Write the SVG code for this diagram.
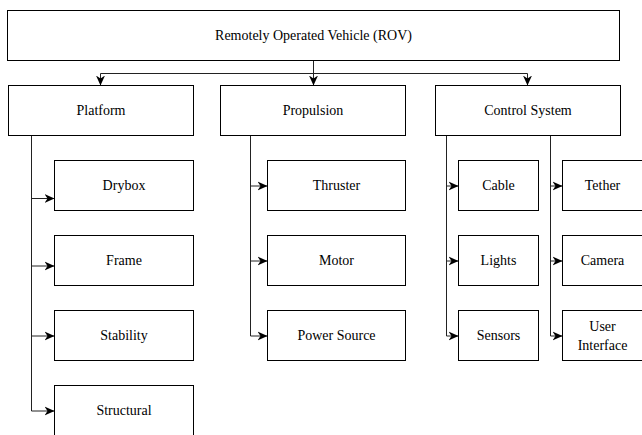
<svg xmlns="http://www.w3.org/2000/svg" width="642" height="435" viewBox="0 0 642 435">
<style>
.box{fill:#fff;stroke:#000;stroke-width:1}
.lbl{font-family:"Liberation Serif","Times New Roman",Tinos,"Nimbus Roman","Nimbus Roman No9 L","Noto Serif","DejaVu Serif",FreeSerif,Times,serif;font-size:14px;fill:#000;text-anchor:middle}
.edge{fill:none;stroke:#222;stroke-width:1}
</style>
<defs>
<marker id="arr" viewBox="0 0 10 10" refX="10" refY="5" markerWidth="10" markerHeight="10" markerUnits="userSpaceOnUse" orient="auto">
<path d="M0,0.5 L10,5 L0,9.5 L3,5 Z" fill="#000"/>
</marker>
</defs>
<rect width="642" height="435" fill="#fff"/>
<g id="connectors">
<path class="edge" d="M313.5,60.5 V73.5 H100.5 V85.5" marker-end="url(#arr)"/>
<path class="edge" d="M313.5,60.5 V85.5" marker-end="url(#arr)"/>
<path class="edge" d="M313.5,60.5 V73.5 H527.5 V85.5" marker-end="url(#arr)"/>
<path class="edge" d="M31.5,135.5 V198.5 H54.5" marker-end="url(#arr)"/>
<path class="edge" d="M31.5,135.5 V266 H54.5" marker-end="url(#arr)"/>
<path class="edge" d="M31.5,135.5 V336 H54.5" marker-end="url(#arr)"/>
<path class="edge" d="M31.5,135.5 V411 H54.5" marker-end="url(#arr)"/>
<path class="edge" d="M250.5,135.5 V186 H267.5" marker-end="url(#arr)"/>
<path class="edge" d="M250.5,135.5 V261 H267.5" marker-end="url(#arr)"/>
<path class="edge" d="M250.5,135.5 V336 H267.5" marker-end="url(#arr)"/>
<path class="edge" d="M446.5,135.5 V186 H458.5" marker-end="url(#arr)"/>
<path class="edge" d="M446.5,135.5 V261 H458.5" marker-end="url(#arr)"/>
<path class="edge" d="M446.5,135.5 V336 H458.5" marker-end="url(#arr)"/>
<path class="edge" d="M550.5,135.5 V186 H562.5" marker-end="url(#arr)"/>
<path class="edge" d="M550.5,135.5 V261 H562.5" marker-end="url(#arr)"/>
<path class="edge" d="M550.5,135.5 V336 H562.5" marker-end="url(#arr)"/>
</g>
<g id="rov"><rect class="box" x="7.5" y="10.5" width="612" height="50"/><text class="lbl" x="313.5" y="40">Remotely Operated Vehicle (ROV)</text></g>
<g id="platform"><rect class="box" x="8.5" y="85.5" width="185" height="50"/><text class="lbl" x="101" y="115">Platform</text></g>
<g id="propulsion"><rect class="box" x="220.5" y="85.5" width="185" height="50"/><text class="lbl" x="313" y="115">Propulsion</text></g>
<g id="control"><rect class="box" x="435.5" y="85.5" width="185" height="50"/><text class="lbl" x="528" y="115">Control System</text></g>
<g id="drybox"><rect class="box" x="54.5" y="160.5" width="139" height="50"/><text class="lbl" x="124" y="190">Drybox</text></g>
<g id="frame"><rect class="box" x="54.5" y="235.5" width="139" height="50"/><text class="lbl" x="124" y="265">Frame</text></g>
<g id="stability"><rect class="box" x="54.5" y="310.5" width="139" height="50"/><text class="lbl" x="124" y="340">Stability</text></g>
<g id="structural"><rect class="box" x="54.5" y="385.5" width="139" height="50"/><text class="lbl" x="124" y="415">Structural</text></g>
<g id="thruster"><rect class="box" x="267.5" y="160.5" width="138" height="50"/><text class="lbl" x="336.5" y="190">Thruster</text></g>
<g id="motor"><rect class="box" x="267.5" y="235.5" width="138" height="50"/><text class="lbl" x="336.5" y="265">Motor</text></g>
<g id="power"><rect class="box" x="267.5" y="310.5" width="138" height="50"/><text class="lbl" x="336.5" y="340">Power Source</text></g>
<g id="cable"><rect class="box" x="458.5" y="160.5" width="80" height="50"/><text class="lbl" x="498.5" y="190">Cable</text></g>
<g id="lights"><rect class="box" x="458.5" y="235.5" width="80" height="50"/><text class="lbl" x="498.5" y="265">Lights</text></g>
<g id="sensors"><rect class="box" x="458.5" y="310.5" width="80" height="50"/><text class="lbl" x="498.5" y="340">Sensors</text></g>
<g id="tether"><rect class="box" x="562.5" y="160.5" width="80" height="50"/><text class="lbl" x="602.5" y="190">Tether</text></g>
<g id="camera"><rect class="box" x="562.5" y="235.5" width="80" height="50"/><text class="lbl" x="602.5" y="265">Camera</text></g>
<g id="ui"><rect class="box" x="562.5" y="310.5" width="80" height="50"/><text class="lbl" x="602.5" y="331">User</text><text class="lbl" x="602.5" y="350">Interface</text></g>
</svg>
